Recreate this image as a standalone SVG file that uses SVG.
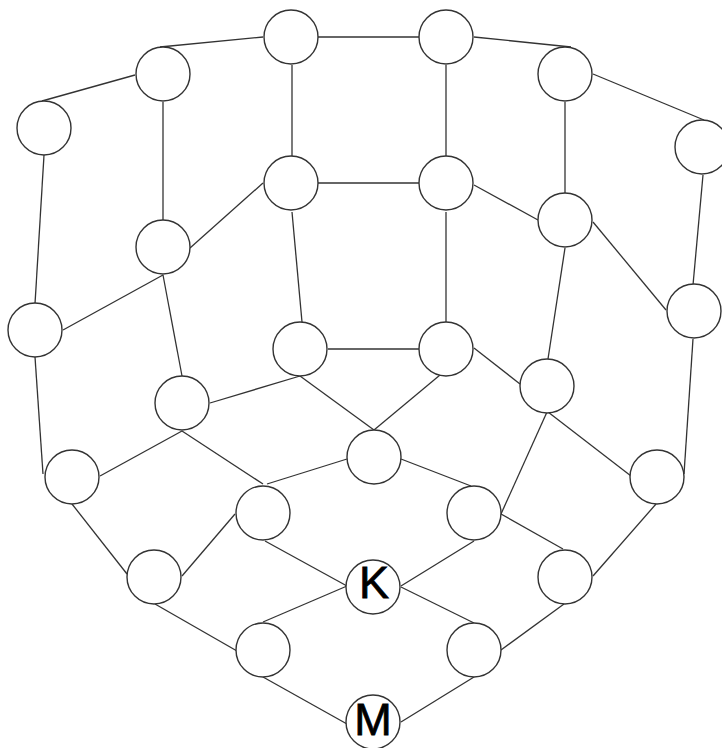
<svg xmlns="http://www.w3.org/2000/svg" width="722" height="748" viewBox="0 0 722 748">
<style>
.e line{stroke:#333;stroke-width:1.3;fill:none}
.n circle{fill:#fff;stroke:#333;stroke-width:1.4}
.n text{font-family:"Liberation Sans",Arial,sans-serif;font-size:45px;fill:#000;text-anchor:middle;stroke:#000;stroke-width:0.8}
</style>
<rect width="722" height="748" fill="#fff"/>
<g id="connectors" class="e">
<line x1="318" y1="37" x2="419" y2="37"/>
<line x1="263" y1="37" x2="160" y2="47"/>
<line x1="135" y1="75" x2="42" y2="101"/>
<line x1="163" y1="102" x2="163" y2="220"/>
<line x1="292" y1="65" x2="292" y2="156"/>
<line x1="44" y1="155" x2="35" y2="304"/>
<line x1="263" y1="183" x2="190" y2="248"/>
<line x1="163" y1="275" x2="63" y2="330"/>
<line x1="163" y1="275" x2="182" y2="376"/>
<line x1="292" y1="212" x2="302" y2="322"/>
<line x1="328" y1="349" x2="419" y2="349"/>
<line x1="318" y1="183" x2="419" y2="183" stroke="#777"/>
<line x1="474" y1="37" x2="571" y2="47"/>
<line x1="593" y1="74" x2="704" y2="120"/>
<line x1="446" y1="65" x2="446" y2="156"/>
<line x1="565" y1="102" x2="565" y2="193"/>
<line x1="474" y1="185" x2="538" y2="220"/>
<line x1="446" y1="212" x2="446" y2="322"/>
<line x1="703" y1="175" x2="693" y2="285"/>
<line x1="593" y1="222" x2="666" y2="310"/>
<line x1="565" y1="248" x2="548" y2="359"/>
<line x1="474" y1="348" x2="520" y2="384"/>
<line x1="693" y1="339" x2="684" y2="474"/>
<line x1="374" y1="430" x2="440" y2="375"/>
<line x1="547" y1="412" x2="501" y2="514"/>
<line x1="548" y1="412" x2="631" y2="476"/>
<line x1="401" y1="459" x2="471" y2="486"/>
<line x1="501" y1="514" x2="563" y2="549"/>
<line x1="656" y1="504" x2="593" y2="576"/>
<line x1="564" y1="604" x2="501" y2="650"/>
<line x1="401" y1="586" x2="474" y2="541"/>
<line x1="401" y1="587" x2="474" y2="623"/>
<line x1="474" y1="677" x2="401" y2="722"/>
<line x1="210" y1="403" x2="300" y2="376"/>
<line x1="300" y1="376" x2="374" y2="430"/>
<line x1="182" y1="431" x2="100" y2="476"/>
<line x1="182" y1="431" x2="263" y2="484"/>
<line x1="267" y1="484" x2="347" y2="459"/>
<line x1="35" y1="357" x2="43" y2="474"/>
<line x1="72" y1="504" x2="127" y2="574"/>
<line x1="235" y1="514" x2="182" y2="576"/>
<line x1="155" y1="604" x2="237" y2="651"/>
<line x1="265" y1="541" x2="347" y2="586"/>
<line x1="263" y1="622" x2="347" y2="586"/>
<line x1="263" y1="677" x2="347" y2="724"/>
</g>
<g id="n1" class="n"><circle cx="291" cy="37" r="27"/></g>
<g id="n2" class="n"><circle cx="446" cy="37" r="27"/></g>
<g id="n3" class="n"><circle cx="163" cy="74" r="27"/></g>
<g id="n4" class="n"><circle cx="565" cy="74" r="27"/></g>
<g id="n5" class="n"><circle cx="44" cy="128" r="27"/></g>
<g id="n6" class="n"><circle cx="702" cy="147" r="27"/></g>
<g id="n7" class="n"><circle cx="291" cy="183" r="27"/></g>
<g id="n8" class="n"><circle cx="446" cy="183" r="27"/></g>
<g id="n9" class="n"><circle cx="163" cy="247" r="27"/></g>
<g id="n10" class="n"><circle cx="565" cy="220" r="27"/></g>
<g id="n11" class="n"><circle cx="35" cy="330" r="27"/></g>
<g id="n12" class="n"><circle cx="694" cy="311" r="27"/></g>
<g id="n13" class="n"><circle cx="300" cy="349" r="27"/></g>
<g id="n14" class="n"><circle cx="446" cy="349" r="27"/></g>
<g id="n15" class="n"><circle cx="182" cy="403" r="27"/></g>
<g id="n16" class="n"><circle cx="547" cy="386" r="27"/></g>
<g id="n17" class="n"><circle cx="374" cy="457" r="27"/></g>
<g id="n18" class="n"><circle cx="72" cy="477" r="27"/></g>
<g id="n19" class="n"><circle cx="657" cy="477" r="27"/></g>
<g id="n20" class="n"><circle cx="263" cy="513" r="27"/></g>
<g id="n21" class="n"><circle cx="474" cy="513" r="27"/></g>
<g id="n22" class="n"><circle cx="154" cy="577" r="27"/></g>
<g id="n23" class="n"><circle cx="565" cy="577" r="27"/></g>
<g id="nK" class="n"><circle cx="373" cy="587" r="27"/><text x="374" y="598">K</text></g>
<g id="n25" class="n"><circle cx="263" cy="650" r="27"/></g>
<g id="n26" class="n"><circle cx="474" cy="650" r="27"/></g>
<g id="nM" class="n"><circle cx="373" cy="722" r="27"/><text x="373" y="735">M</text></g>
</svg>
